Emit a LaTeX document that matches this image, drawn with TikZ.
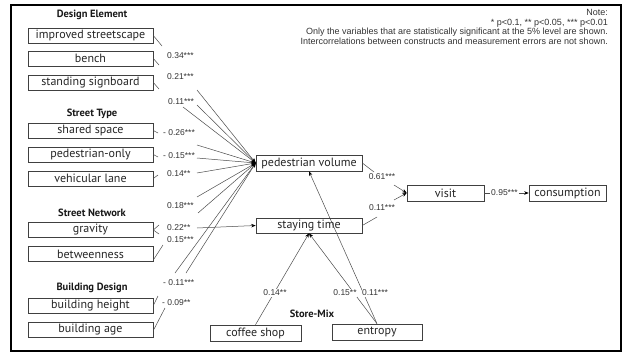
\documentclass[tikz,border=0pt]{standalone}
\usepackage{fontspec}
\setmainfont{Liberation Sans}
\newfontfamily\boxfont{PT Sans}
\usetikzlibrary{arrows.meta}
\begin{document}
\begin{tikzpicture}[x=1pt,y=-1pt,
  box/.style={draw=black!75, line width=0.6pt, inner sep=0pt, minimum height=15pt, font=\boxfont\fontsize{12}{12}\selectfont, text=black!85},
  lbox/.style={box, minimum width=125pt},
  ttl/.style={font=\boxfont\bfseries\fontsize{10.5}{12}\selectfont, text=black!90, inner sep=0pt},
  coef/.style={font=\fontsize{8.5}{9}\selectfont, inner sep=1pt, text=black!80},
  ln/.style={draw=black!70, line width=0.5pt},
  arr/.style={ln, -{Stealth[length=4.5pt,width=3.5pt,color=black]}}
]
\useasboundingbox (0,0) rectangle (624,353);
\fill[white] (0,0) rectangle (624,353);
\draw[line width=1.5pt] (11,5) rectangle (621,351);

% left boxes
\node[ttl] (tDE) at (92,15) {Design Element};
\node[lbox] (is) at (90.5,35.5) {improved streetscape};
\node[lbox] (bn) at (90.5,58.5) {bench};
\node[lbox] (sb) at (90.5,82.5) {standing signboard};
\node[ttl] (tST) at (92,114) {Street Type};
\node[lbox] (ss) at (90.5,130.5) {shared space};
\node[lbox] (po) at (90.5,154.5) {pedestrian-only};
\node[lbox] (vl) at (90.5,178.5) {vehicular lane};
\node[ttl] (tSN) at (92,213) {Street Network};
\node[lbox] (gr) at (90.5,230) {gravity};
\node[lbox] (bt) at (90.5,254) {betweenness};
\node[ttl] (tBD) at (92,288) {Building Design};
\node[lbox] (bh) at (90.5,305.5) {building height};
\node[lbox] (ba) at (90.5,329.5) {building age};

% right boxes
\node[box, minimum width=106pt, minimum height=16pt] (pv) at (309,163) {pedestrian volume};
\node[box, minimum width=106pt] (st) at (309,225.5) {staying time};
\node[box, minimum width=77pt, minimum height=16pt] (vi) at (445.5,193) {visit};
\node[box, minimum width=77pt, minimum height=16pt] (co) at (567.5,193) {consumption};
\node[box, minimum width=91pt, minimum height=16pt] (cs) at (255.5,333) {coffee shop};
\node[box, minimum width=90pt, minimum height=16pt] (en) at (377,332) {entropy};
\node[ttl] (tSM) at (312,314) {Store-Mix};

% note
\node[anchor=north east, align=right, font=\fontsize{9}{9.4}\selectfont, text=black!80, inner sep=0pt] (note) at (608,9.5)
 {Note:\\* p<0.1, ** p<0.05, *** p<0.01\\Only the variables that are statistically significant at the 5\% level are shown.\\Intercorrelations between constructs and measurement errors are not shown.};

% coefficient labels (left)
\node[coef, anchor=west] (c1) at (166,56) {0.34***};
\node[coef, anchor=west] (c2) at (166,77) {0.21***};
\node[coef, anchor=west] (c3) at (167,102) {0.11***};
\node[coef, anchor=west] (c4) at (162,133) {- 0.26***};
\node[coef, anchor=west] (c5) at (162,156) {- 0.15***};
\node[coef, anchor=west] (c6) at (166,174) {0.14**};
\node[coef, anchor=west] (c7) at (166,206) {0.18***};
\node[coef, anchor=west] (c8) at (166,228) {0.22**};
\node[coef, anchor=west] (c9) at (166,240) {0.15***};
\node[coef, anchor=west] (c10) at (162,283) {- 0.11***};
\node[coef, anchor=west] (c11) at (161,303) {- 0.09**};

% short strokes from left boxes
\coordinate (e1) at (162,46);
\coordinate (e2) at (159,65);
\coordinate (e3) at (159,89);
\coordinate (e4) at (158,133);
\coordinate (e5) at (158,157);
\coordinate (e6) at (158,175);
\coordinate (e7a) at (159,225);
\coordinate (e7b) at (159,234);
\coordinate (e9) at (163,245);
\coordinate (e10) at (158,296);
\coordinate (e11) at (165,308);
\draw[ln] (is.east) -- (e1);
\draw[ln] (bn.east) -- (e2);
\draw[ln] (sb.east) -- (e3);
\draw[ln] (ss.east) -- (e4);
\draw[ln] (po.east) -- (e5);
\draw[ln] (vl.east) -- (e6);
\draw[ln] (e7a) -- (gr.east) -- (e7b);
\draw[ln] ([yshift=-6pt]bt.east) -- (e9);
\draw[ln] (bh.east) -- (e10);
\draw[ln] ([yshift=-1pt]ba.east) -- (e11);

% long lines into pedestrian volume
\coordinate (s1) at (197,90);
\coordinate (s2) at (197,105);
\coordinate (s3) at (183,107);
\coordinate (s4) at (197,145);
\coordinate (s5) at (197,158);
\coordinate (s6) at (197,173);
\coordinate (s7) at (197,197);
\coordinate (s8) at (198,213);
\coordinate (s9) at (175,273);
\coordinate (s10) at (186,273);
\foreach \s in {s1,s2,s3,s4,s5,s6,s7,s8,s9,s10}
  \draw[arr] (\s) -- (pv.west);

% gravity -> staying time
\coordinate (g1) at (197,228);
\draw[arr] (g1) -- (st.west);

% to visit
\coordinate (k1) at (374,172);
\coordinate (k2) at (394,185);
\coordinate (k3) at (377,217);
\coordinate (k4) at (394,200);
\draw[ln] (pv.east) -- (k1);
\draw[arr] (k2) -- (vi.west);
\draw[ln] (st.east) -- (k3);
\draw[arr] (k4) -- (vi.west);
\node[coef] (c12) at (382,177) {0.61***};
\node[coef] (c13) at (382,208) {0.11***};

% visit -> consumption
\node[coef, anchor=west] (c14) at (490,193) {0.95***};
\draw[ln] (vi.east) -- (c14.west);
\draw[arr] (c14.east) -- (co.west);

% store-mix
\draw[arr] (cs.north) -- (st.south);
\draw[arr] (en.north) -- (st.south);
\draw[arr] (en.north) -- (pv.south);
\node[coef, fill=white, inner sep=0.5pt] (c15) at (275,293) {0.14**};
\node[coef, fill=white, inner sep=0.5pt] (c16) at (345,293) {0.15**};
\node[coef, fill=white, inner sep=0.5pt] (c17) at (375,293) {0.11***};
\end{tikzpicture}
\end{document}
